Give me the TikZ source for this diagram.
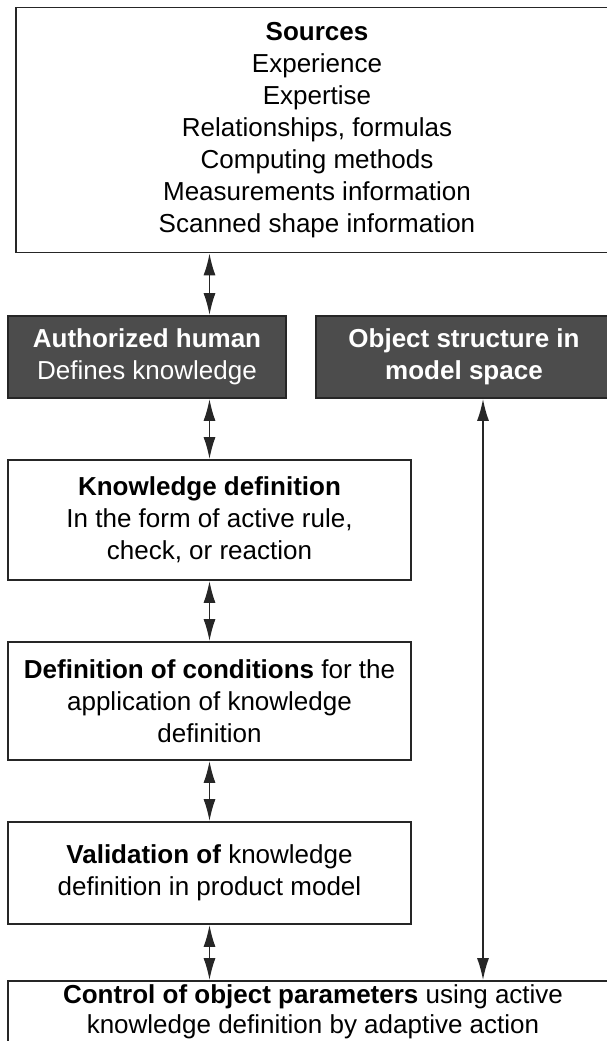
\documentclass[tikz,border=0pt]{standalone}
\usepackage{fontspec}
\setmainfont{Liberation Sans}
\usetikzlibrary{arrows.meta}
\tikzstyle{every picture}+=[font=\fontsize{26}{32}\selectfont]
\tikzstyle{lightbox}=[draw=black!85, line width=1.6pt, fill=white, align=center, inner sep=0pt]
\tikzstyle{darkbox}=[draw=black!85, line width=1.6pt, fill=black!70, text=white, align=center, inner sep=0pt]
\tikzstyle{link}=[line width=1.8pt, black!85, {Latex[length=22pt,width=12pt]}-{Latex[length=22pt,width=12pt]}]

\begin{document}
\begin{tikzpicture}[x=1pt, y=-1pt]
\useasboundingbox (0,0) rectangle (607,1041);
\clip (0,0) rectangle (607,1041);

%% Sources
\node[lightbox, minimum width=602pt, minimum height=245pt] (sources) at (317,130)
  {\textbf{Sources}\\Experience\\Expertise\\Relationships, formulas\\Computing methods\\Measurements information\\Scanned shape information};

%% dark boxes
\node[darkbox, minimum width=278pt, minimum height=82pt] (human) at (147,357)
  {\textbf{Authorized human}\\Defines knowledge};
\node[darkbox, minimum width=296pt, minimum height=82pt] (object) at (464,357)
  {\textbf{Object structure in}\\\textbf{model space}};

%% steps
\node[lightbox, minimum width=403pt, minimum height=120pt] (know) at (209.5,520)
  {\textbf{Knowledge definition}\\In the form of active rule,\\check, or reaction};
\node[lightbox, minimum width=403pt, minimum height=118pt] (cond) at (209.5,701)
  {\textbf{Definition of conditions} for the\\application of knowledge\\definition};
\node[lightbox, minimum width=403pt, minimum height=102pt] (valid) at (209.5,873)
  {\textbf{Validation of} knowledge\\definition in product model};
\node[lightbox, minimum width=610pt, minimum height=62pt, font=\fontsize{26}{30}\selectfont] (control) at (313,1012)
  {\textbf{Control of object parameters} using active\\knowledge definition by adaptive action};

%% Links
\draw[link] (know.north |- sources.south) -- (know.north |- human.north);
\draw[link] (know.north |- human.south) -- (know.north);
\draw[link] (know.south) -- (cond.north);
\draw[link] (cond.south) -- (valid.north);
\draw[link] (valid.south) -- (valid.south |- control.north);
\coordinate (objfoot) at ([xshift=19pt]object.south);
\draw[link] (objfoot) -- (objfoot |- control.north);

\end{tikzpicture}
\end{document}
